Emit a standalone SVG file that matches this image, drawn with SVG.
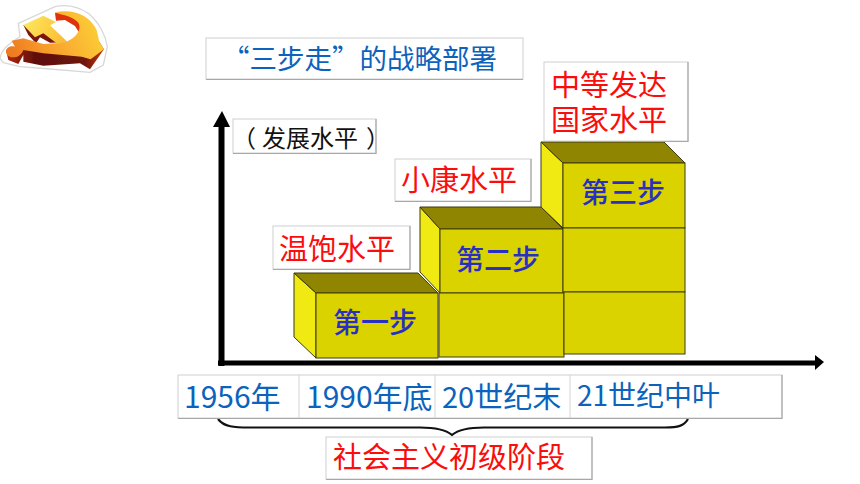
<svg xmlns="http://www.w3.org/2000/svg" width="860" height="484" viewBox="0 0 860 484">
<style>
text{font-family:"Noto Sans CJK SC","Liberation Sans",sans-serif}
.box{fill:#fff;stroke:#cfcfcf;stroke-width:1}
.edge{fill:none;stroke:#a8a8a8;stroke-width:1.2}
.blue{fill:#0b63bd}
.red{fill:#fb0d0d}
.f{fill:#dbd300;stroke:#3c3c10;stroke-width:1}
.t{fill:#8f8500;stroke:#3c3c10;stroke-width:1}
.s{fill:#f0e912;stroke:#3c3c10;stroke-width:1}
.step{fill:#2a2fc4;font-size:28px;font-weight:500}
</style>
<defs>
<linearGradient id="gold" gradientUnits="userSpaceOnUse" x1="40" y1="170" x2="290" y2="50"><stop offset="0" stop-color="#ee7a20"/><stop offset="0.45" stop-color="#f9a52e"/><stop offset="1" stop-color="#fcd038"/></linearGradient>
<linearGradient id="ham" gradientUnits="userSpaceOnUse" x1="70" y1="60" x2="190" y2="125"><stop offset="0" stop-color="#fee95e"/><stop offset="1" stop-color="#fbbc34"/></linearGradient>
<linearGradient id="dark" gradientUnits="userSpaceOnUse" x1="20" y1="0" x2="310" y2="0"><stop offset="0" stop-color="#b0280c"/><stop offset="0.3" stop-color="#5e0f08"/><stop offset="0.8" stop-color="#6d1409"/><stop offset="1" stop-color="#c0360e"/></linearGradient>
<filter id="soft" x="-5%" y="-5%" width="110%" height="110%"><feGaussianBlur stdDeviation="1"/></filter>
</defs>
<rect width="860" height="484" fill="#fff"/>
<g id="emblem" transform="scale(0.3333)">
<path d="M0,175 C5,145 30,130 60,110 L55,70 L165,20 C200,12 235,20 265,40 C300,70 318,110 322,140 L310,195 L270,217 L150,207 L60,200 L10,188 Z" fill="#fff" stroke="#d8d8d8" stroke-width="4"/>
<g filter="url(#soft)">
<path d="M18,150 L25,180 L55,192 L70,165 L70,185 L130,197 L240,190 L270,208 L312,148 L298,125 L240,155 L130,150 L60,135 Z" fill="url(#dark)"/>
<path d="M70,75 L85,105 L108,130 L120,112 L150,128 L198,127 L150,80 Z" fill="#7a1509"/>
<path d="M165,38 L215,42 L245,70 L242,105 L225,78 L195,60 L168,62 Z" fill="#de320c"/>
<path d="M165,38 C215,25 270,45 290,90 L298,125 L312,148 L272,178 L245,170 L130,160 L70,150 C60,178 25,178 18,158 C18,142 30,136 45,140 L35,122 L70,115 L130,132 L190,128 C225,118 248,90 235,68 C220,50 190,45 165,38 Z" fill="url(#gold)"/>
<path d="M70,75 L130,47 L168,66 L150,76 L202,125 L172,131 L130,100 L105,112 Z" fill="url(#ham)"/>
</g>
</g>
<g id="blocks">
<g id="step1">
<path class="s" d="M294,273 L316,293 L316,358 L294,337 Z"/>
<path class="t" d="M294,273 L418,273 L438,293 L316,293 Z"/>
<rect class="f" x="316" y="293" width="122" height="65"/>
<text class="step" x="333" y="333">第一步</text>
</g>
<g id="step2">
<path class="s" d="M420,207 L440,229 L440,293 L420,272 Z"/>
<path class="t" d="M420,207 L541,207 L563,229 L440,229 Z"/>
<rect class="f" x="440" y="229" width="123" height="64"/>
<rect class="f" x="439" y="293" width="125" height="64"/>
<text class="step" x="456" y="270">第二步</text>
</g>
<g id="step3">
<path class="s" d="M541,142 L563,163 L563,228 L541,207 Z"/>
<path class="t" d="M541,142 L664,142 L685,163 L563,163 Z"/>
<rect class="f" x="563" y="163" width="122" height="65"/>
<rect class="f" x="563" y="228" width="122" height="64"/>
<rect class="f" x="564" y="292" width="121" height="62"/>
<text class="step" x="581" y="203">第三步</text>
</g>
</g>
<g id="connectors" fill="#000">
<path d="M221.500,366 V125" stroke="#000" stroke-width="6" fill="none"/>
<path d="M213,127 L222,111 L230,127 Z"/>
<path d="M218,363 H818" stroke="#000" stroke-width="5" fill="none"/>
<path d="M815,355 L824,362 L815,370 Z"/>
<path d="M218,419 C224,427 234,427.500 250,427.500 L420,427.500 C435,427.500 446,430 452,435 C458,430 468,427.500 484,427.500 L665,427.500 C678,427.500 684,426 688,419" fill="none" stroke="#111" stroke-width="2.200"/>
</g>
<g id="title">
<rect class="box" x="206" y="38" width="317" height="41"/>
<path class="edge" d="M206,79.500 H523"/>
<text class="blue" x="222" y="69" font-size="27.500">“三步走”的战略部署</text>
</g>
<g id="y-label">
<rect class="box" x="233" y="119" width="143" height="34"/>
<path class="edge" d="M233,153.500 H376 V119"/>
<text font-size="24" fill="#111" y="147"><tspan x="232">（</tspan><tspan x="262">发展水平</tspan><tspan x="366">）</tspan></text>
</g>
<g id="level1">
<rect class="box" x="273" y="226" width="137" height="43"/>
<path class="edge" d="M273,269.500 H410 V226"/>
<text class="red" x="279" y="260" font-size="29">温饱水平</text>
</g>
<g id="level2">
<rect class="box" x="395" y="159" width="136" height="42"/>
<path class="edge" d="M395,201.500 H531 V159"/>
<text class="red" x="401" y="191" font-size="29">小康水平</text>
</g>
<g id="level3">
<rect class="box" x="544" y="62" width="144" height="79"/>
<path class="edge" d="M544,141.500 H688 V62"/>
<text class="red" font-size="29"><tspan x="551" y="96">中等发达</tspan><tspan x="551" y="131">国家水平</tspan></text>
</g>
<g id="timeline">
<rect class="box" x="178" y="375" width="604" height="43"/>
<path class="edge" d="M178,418.500 H782 V375"/>
<path d="M299,375 V418 M435,375 V418 M570,375 V418" stroke="#d4d4d4" fill="none"/>
<text class="blue" x="184" y="408" font-size="30">1956年</text>
<text class="blue" x="306" y="408" font-size="30">1990年底</text>
<text class="blue" x="442" y="408" font-size="29">20世纪末</text>
<text class="blue" x="577" y="406" font-size="28">21世纪中叶</text>
</g>
<g id="stage">
<rect class="box" x="326" y="437" width="266" height="42"/>
<path class="edge" d="M326,479.500 H592 V437"/>
<text class="red" x="333" y="468" font-size="29">社会主义初级阶段</text>
</g>
</svg>
